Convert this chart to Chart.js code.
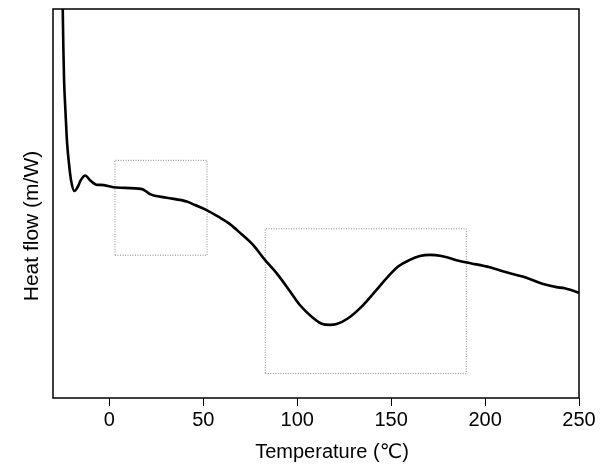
<!DOCTYPE html>
<html>
<head>
<meta charset="utf-8">
<script src="https://cdn.jsdelivr.net/npm/chart.js@4"></script>
<style>
html,body{margin:0;padding:0;background:#fff;}
canvas{display:block;}
</style>
</head>
<body>
<canvas id="c" width="604" height="470"></canvas>
<script>
// Temperature (°C) sampled along the DSC trace
const temps = [-25, -24.5, -24.1, -23.4, -22.5, -21.3, -20.4, -18.6, -16.8, -15.2, -12.8, -10.3, -6.4, -4.9, 3.9, 17.4, 19.9, 21.6, 30.5, 41.2, 45.6, 51.8, 58.0, 64.2, 70.4, 76.6, 82.8, 89.0, 96.5, 101.4, 107.7, 113.0, 117.4, 121.0, 127.1, 134.3, 142.2, 147.6, 153.7, 159.9, 165.3, 170.6, 176.8, 186.5, 192.8, 202.5, 211.4, 222.0, 230.9, 238.0, 242.4, 249.5, 250];
// Heat flow (arbitrary units, no scale shown)
const heat = [10.6, 9.03, 8.17, 7.40, 6.56, 5.94, 5.60, 5.32, 5.43, 5.60, 5.72, 5.60, 5.48, 5.48, 5.41, 5.37, 5.30, 5.24, 5.15, 5.05, 4.96, 4.83, 4.66, 4.47, 4.21, 3.93, 3.55, 3.21, 2.72, 2.39, 2.09, 1.91, 1.88, 1.90, 2.05, 2.35, 2.78, 3.08, 3.38, 3.55, 3.65, 3.68, 3.65, 3.52, 3.46, 3.36, 3.23, 3.09, 2.93, 2.85, 2.82, 2.71, 2.70];
// Highlight boxes: [xmin, xmax, ymin, ymax]
const box1 = [3, 52, 3.67, 6.11];
const box2 = [83, 190, 0.63, 4.35];
const xTicks = [0, 50, 100, 150, 200, 250];
const xRange = [-30, 250];
const yRange = [0, 10];
const xTitle = 'Temperature (℃)';
const yTitle = 'Heat flow (m/W)';

function boxPts(b){
  return [{x:b[0],y:b[2]},{x:b[1],y:b[2]},{x:b[1],y:b[3]},{x:b[0],y:b[3]},{x:b[0],y:b[2]}];
}
const FONT = '"Liberation Sans", Arial, "DejaVu Sans", sans-serif';

const deco = {
  id: 'deco',
  beforeDraw(chart){
    const ctx = chart.ctx;
    ctx.save();
    ctx.fillStyle = '#fff';
    ctx.fillRect(0,0,chart.width,chart.height);
    ctx.restore();
  },
  afterDraw(chart){
    const ctx = chart.ctx, a = chart.chartArea;
    ctx.save();
    ctx.strokeStyle = '#000';
    ctx.lineWidth = 1.5;
    ctx.strokeRect(a.left, a.top, a.right - a.left, a.bottom - a.top);
    ctx.fillStyle = '#000';
    ctx.textAlign = 'center';
    ctx.textBaseline = 'middle';
    ctx.font = '20px ' + FONT;
    ctx.fillText(xTitle, 332, 452);
    ctx.translate(32, 226);
    ctx.rotate(-Math.PI/2);
    ctx.font = '21px ' + FONT;
    ctx.fillText(yTitle, 0, 0);
    ctx.restore();
  }
};

new Chart(document.getElementById('c'), {
  type: 'line',
  data: {
    datasets: [
      {
        data: temps.map((t,i)=>({x:t, y:heat[i]})),
        borderColor: '#000',
        borderWidth: 2.6,
        pointRadius: 0,
        cubicInterpolationMode: 'monotone',
        fill: false,
        clip: 0
      },
      {
        data: boxPts(box1),
        borderColor: '#8a8a8a',
        borderWidth: 1,
        borderDash: [1,1.5],
        pointRadius: 0,
        tension: 0,
        fill: false
      },
      {
        data: boxPts(box2),
        borderColor: '#8a8a8a',
        borderWidth: 1,
        borderDash: [1,1.5],
        pointRadius: 0,
        tension: 0,
        fill: false
      }
    ]
  },
  options: {
    responsive: false,
    animation: false,
    devicePixelRatio: 1,
    layout: { padding: { top: 9, right: 25, left: 0, bottom: 0 } },
    plugins: { legend: { display: false }, tooltip: { enabled: false } },
    scales: {
      x: {
        type: 'linear',
        min: xRange[0], max: xRange[1],
        afterBuildTicks: s => { s.ticks = xTicks.map(v => ({value: v})); },
        afterFit: s => { s.height = 72; },
        grid: { display: true, drawOnChartArea: false, drawTicks: true, tickLength: 8, color: '#000', lineWidth: 1 },
        border: { display: false },
        ticks: { color: '#000', font: { size: 20, family: FONT }, padding: 2, maxRotation: 0, autoSkip: false },
        title: { display: false }
      },
      y: {
        type: 'linear',
        min: yRange[0], max: yRange[1],
        afterFit: s => { s.width = 53; },
        grid: { display: false },
        border: { display: false },
        ticks: { display: false },
        title: { display: false }
      }
    }
  },
  plugins: [deco]
});
</script>
</body>
</html>
